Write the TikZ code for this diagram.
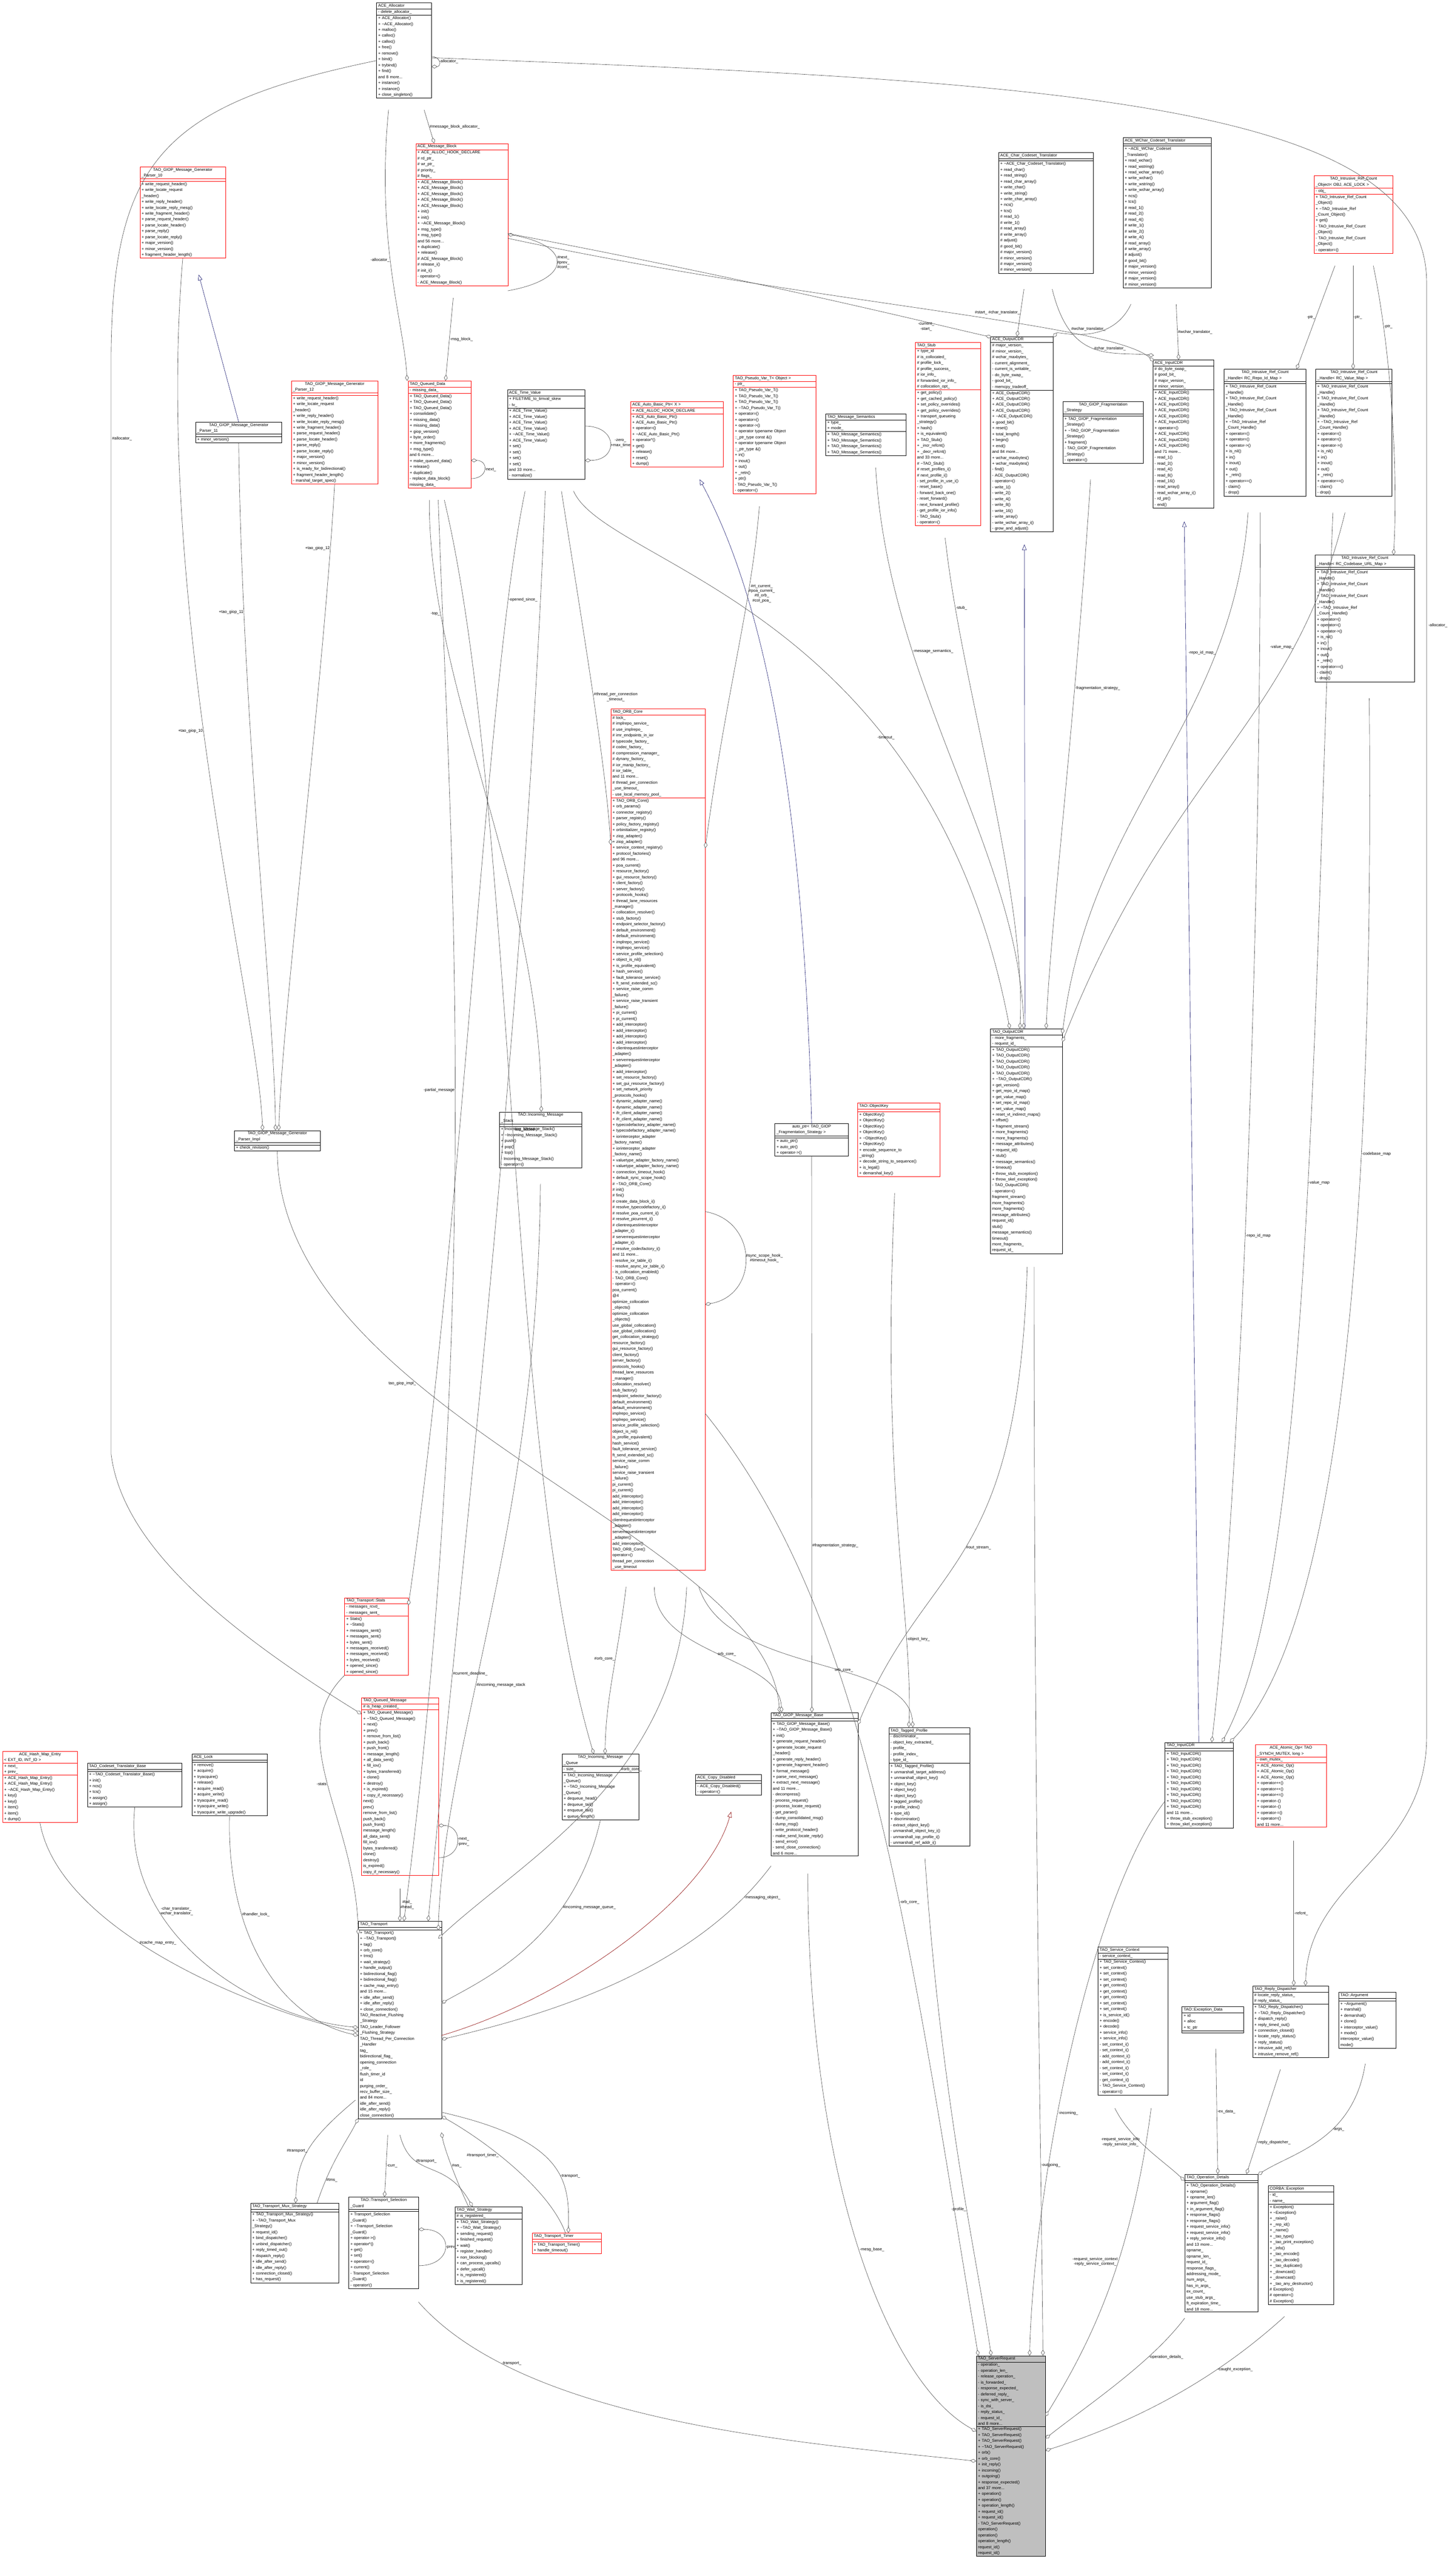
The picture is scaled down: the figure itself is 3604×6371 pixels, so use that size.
\documentclass[tikz,border=0pt]{standalone}
\usepackage{fontspec}
\setmainfont{Liberation Sans}
\usetikzlibrary{shapes.multipart,arrows.meta}

\definecolor{navy}{RGB}{25,25,112}
\definecolor{darkred}{RGB}{139,0,0}

\tikzset{
    cls/.style={rectangle split,rectangle split parts=3,draw,anchor=north west,
        inner xsep=4pt,inner ysep=2.5pt,align=left,line width=0.9pt,
        rectangle split empty part height=9pt,
        font=\fontsize{10}{14.6}\selectfont},
    agg/.style={draw=black!70,line width=0.8pt,-{Diamond[open,length=15pt,width=9pt,fill=white]}},
    inh/.style={draw=navy,line width=0.8pt,-{Triangle[open,length=14pt,width=11pt,fill=white]}},
    lbl/.style={font=\fontsize{10}{12}\selectfont,align=center,inner sep=1pt}
}

% class box: colour, name, top left corner, text width, title, attributes, methods
\newcommand{\umlclass}[7][black]{%
  \node[cls,draw=#1,text width=#4] (#2) at (#3) {\centering #5\nodepart{two}#6\nodepart{three}#7};}
\newcommand{\tl}{\textasciitilde}

\begin{document}
\catcode`\_=12
\begin{tikzpicture}[x=1pt,y=-1pt]
\useasboundingbox[fill=white] (0,0) rectangle (3604,6371);

%--- top row ---%
\umlclass{alloc}{932,7}{128pt}{ACE_Allocator}{- delete_allocator_}{+ ACE_Allocator()\\+ \tl ACE_Allocator()\\+ malloc()\\+ calloc()\\+ calloc()\\+ free()\\+ remove()\\+ bind()\\+ trybind()\\+ find()\\and 8 more...\\+ instance()\\+ instance()\\+ close_singleton()}
\umlclass[red]{msgblock}{1029,355}{220pt}{ACE_Message_Block}{+ ACE_ALLOC_HOOK_DECLARE\\\# rd_ptr_\\\# wr_ptr_\\\# priority_\\\# flags_}{+ ACE_Message_Block()\\+ ACE_Message_Block()\\+ ACE_Message_Block()\\+ ACE_Message_Block()\\+ ACE_Message_Block()\\+ init()\\+ init()\\+ \tl ACE_Message_Block()\\+ msg_type()\\+ msg_type()\\and 56 more...\\+ duplicate()\\+ release()\\\# ACE_Message_Block()\\\# release_i()\\\# init_i()\\- operator=()\\- ACE_Message_Block()}
\umlclass[red]{parser10}{346,413}{204pt}{TAO_GIOP_Message_Generator\\_Parser_10}{}{+ write_request_header()\\+ write_locate_request\\ _header()\\+ write_reply_header()\\+ write_locate_reply_mesg()\\+ write_fragment_header()\\+ parse_request_header()\\+ parse_locate_header()\\+ parse_reply()\\+ parse_locate_reply()\\+ major_version()\\+ minor_version()\\+ fragment_header_length()}
\umlclass{parser11}{484,1045}{205pt}{TAO_GIOP_Message_Generator\\_Parser_11}{}{+ minor_version()}
\umlclass[red]{parser12}{721,943}{206pt}{TAO_GIOP_Message_Generator\\_Parser_12}{}{+ write_request_header()\\+ write_locate_request\\ _header()\\+ write_reply_header()\\+ write_locate_reply_mesg()\\+ write_fragment_header()\\+ parse_request_header()\\+ parse_locate_header()\\+ parse_reply()\\+ parse_locate_reply()\\+ major_version()\\+ minor_version()\\+ is_ready_for_bidirectional()\\+ fragment_header_length()\\- marshal_target_spec()}
\umlclass[red]{qdata}{1010,943}{148pt}{TAO_Queued_Data}{- missing_data_}{+ TAO_Queued_Data()\\+ TAO_Queued_Data()\\+ TAO_Queued_Data()\\+ consolidate()\\+ missing_data()\\+ missing_data()\\+ giop_version()\\+ byte_order()\\+ more_fragments()\\+ msg_type()\\and 6 more...\\+ make_queued_data()\\+ release()\\+ duplicate()\\- replace_data_block()\\* missing_data_}
\umlclass{timevalue}{1256,965}{184pt}{ACE_Time_Value}{+ FILETIME_to_timval_skew\\- tv_}{+ ACE_Time_Value()\\+ ACE_Time_Value()\\+ ACE_Time_Value()\\+ ACE_Time_Value()\\+ \tl ACE_Time_Value()\\+ ACE_Time_Value()\\+ set()\\+ set()\\+ set()\\+ set()\\and 33 more...\\- normalize()}
\umlclass[red]{autobasic}{1561,994}{221pt}{ACE_Auto_Basic_Ptr< X >}{+ ACE_ALLOC_HOOK_DECLARE}{+ ACE_Auto_Basic_Ptr()\\+ ACE_Auto_Basic_Ptr()\\+ operator=()\\+ \tl ACE_Auto_Basic_Ptr()\\+ operator*()\\+ get()\\+ release()\\+ reset()\\+ dump()}
\umlclass{charcs}{2472,377}{226pt}{ACE_Char_Codeset_Translator}{}{+ \tl ACE_Char_Codeset_Translator()\\+ read_char()\\+ read_string()\\+ read_char_array()\\+ write_char()\\+ write_string()\\+ write_char_array()\\+ ncs()\\+ tcs()\\\# read_1()\\\# write_1()\\\# read_array()\\\# write_array()\\\# adjust()\\\# good_bit()\\\# major_version()\\\# minor_version()\\\# major_version()\\\# minor_version()}
\umlclass{wcharcs}{2780,340}{210pt}{ACE_WChar_Codeset_Translator}{}{+ \tl ACE_WChar_Codeset\\ _Translator()\\+ read_wchar()\\+ read_wstring()\\+ read_wchar_array()\\+ write_wchar()\\+ write_wstring()\\+ write_wchar_array()\\+ ncs()\\+ tcs()\\\# read_1()\\\# read_2()\\\# read_4()\\\# write_1()\\\# write_2()\\\# write_4()\\\# read_array()\\\# write_array()\\\# adjust()\\\# good_bit()\\\# major_version()\\\# minor_version()\\\# major_version()\\\# minor_version()}
\umlclass[red]{refobj}{3253,435}{187pt}{TAO_Intrusive_Ref_Count\\_Object< OBJ, ACE_LOCK >}{- obj_}{+ TAO_Intrusive_Ref_Count\\ _Object()\\+ \tl TAO_Intrusive_Ref\\ _Count_Object()\\+ get()\\- TAO_Intrusive_Ref_Count\\ _Object()\\- TAO_Intrusive_Ref_Count\\ _Object()\\- operator=()}

%--- second row ---%
\umlclass[red]{pseudovar}{1815,929}{196pt}{TAO_Pseudo_Var_T< Object >}{- ptr_}{+ TAO_Pseudo_Var_T()\\+ TAO_Pseudo_Var_T()\\+ TAO_Pseudo_Var_T()\\+ \tl TAO_Pseudo_Var_T()\\+ operator=()\\+ operator=()\\+ operator->()\\+ operator typename Object\\::_ptr_type const \&()\\+ operator typename Object\\::_ptr_type \&()\\+ in()\\+ inout()\\+ out()\\+ _retn()\\+ ptr()\\- TAO_Pseudo_Var_T()\\- operator=()}
\umlclass{msgsem}{2044,1024}{190pt}{TAO_Message_Semantics}{+ type_\\+ mode_}{+ TAO_Message_Semantics()\\+ TAO_Message_Semantics()\\+ TAO_Message_Semantics()\\+ TAO_Message_Semantics()}
\umlclass[red]{stub}{2266,847}{153pt}{TAO_Stub}{+ type_id\\\# is_collocated_\\\# profile_lock_\\\# profile_success_\\\# ior_info_\\\# forwarded_ior_info_\\\# collocation_opt_}{+ get_policy()\\+ get_cached_policy()\\+ set_policy_overrides()\\+ get_policy_overrides()\\+ transport_queueing\\ _strategy()\\+ hash()\\+ is_equivalent()\\+ TAO_Stub()\\+ _incr_refcnt()\\+ _decr_refcnt()\\and 33 more...\\\# \tl TAO_Stub()\\\# reset_profiles_i()\\\# next_profile_i()\\- set_profile_in_use_i()\\- reset_base()\\- forward_back_one()\\- reset_forward()\\- next_forward_profile()\\- get_profile_ior_info()\\- TAO_Stub()\\- operator=()}
\umlclass{aceout}{2452,833}{147pt}{ACE_OutputCDR}{\# major_version_\\\# minor_version_\\\# wchar_maxbytes_\\- current_alignment_\\- current_is_writable_\\- do_byte_swap_\\- good_bit_\\- memcpy_tradeoff_}{+ ACE_OutputCDR()\\+ ACE_OutputCDR()\\+ ACE_OutputCDR()\\+ ACE_OutputCDR()\\+ \tl ACE_OutputCDR()\\+ good_bit()\\+ reset()\\+ total_length()\\+ begin()\\+ end()\\and 84 more...\\+ wchar_maxbytes()\\+ wchar_maxbytes()\\- find()\\- ACE_OutputCDR()\\- operator=()\\- write_1()\\- write_2()\\- write_4()\\- write_8()\\- write_16()\\- write_array()\\- write_wchar_array_i()\\- grow_and_adjust()}
\umlclass{fragstrat}{2631,994}{191pt}{TAO_GIOP_Fragmentation\\_Strategy}{}{+ TAO_GIOP_Fragmentation\\ _Strategy()\\+ \tl TAO_GIOP_Fragmentation\\ _Strategy()\\+ fragment()\\- TAO_GIOP_Fragmentation\\ _Strategy()\\- operator=()}
\umlclass{acein}{2854,891}{142pt}{ACE_InputCDR}{\# do_byte_swap_\\\# good_bit_\\\# major_version_\\\# minor_version_}{+ ACE_InputCDR()\\+ ACE_InputCDR()\\+ ACE_InputCDR()\\+ ACE_InputCDR()\\+ ACE_InputCDR()\\+ ACE_InputCDR()\\+ operator=()\\+ ACE_InputCDR()\\+ ACE_InputCDR()\\+ ACE_InputCDR()\\and 71 more...\\- read_1()\\- read_2()\\- read_4()\\- read_8()\\- read_16()\\- read_array()\\- read_wchar_array_i()\\- rd_ptr()\\- end()}
\umlclass{repohandle}{3030,914}{195pt}{TAO_Intrusive_Ref_Count\\_Handle< RC_Repo_Id_Map >}{}{+ TAO_Intrusive_Ref_Count\\ _Handle()\\+ TAO_Intrusive_Ref_Count\\ _Handle()\\+ TAO_Intrusive_Ref_Count\\ _Handle()\\+ \tl TAO_Intrusive_Ref\\ _Count_Handle()\\+ operator=()\\+ operator=()\\+ operator->()\\+ is_nil()\\+ in()\\+ inout()\\+ out()\\+ _retn()\\+ operator==()\\- claim()\\- drop()}
\umlclass{valuehandle}{3257,914}{181pt}{TAO_Intrusive_Ref_Count\\_Handle< RC_Value_Map >}{}{+ TAO_Intrusive_Ref_Count\\ _Handle()\\+ TAO_Intrusive_Ref_Count\\ _Handle()\\+ TAO_Intrusive_Ref_Count\\ _Handle()\\+ \tl TAO_Intrusive_Ref\\ _Count_Handle()\\+ operator=()\\+ operator=()\\+ operator->()\\+ is_nil()\\+ in()\\+ inout()\\+ out()\\+ _retn()\\+ operator==()\\- claim()\\- drop()}
\umlclass{urlhandle}{3256,1374}{237pt}{TAO_Intrusive_Ref_Count\\_Handle< RC_Codebase_URL_Map >}{}{+ TAO_Intrusive_Ref_Count\\ _Handle()\\+ TAO_Intrusive_Ref_Count\\ _Handle()\\+ TAO_Intrusive_Ref_Count\\ _Handle()\\+ \tl TAO_Intrusive_Ref\\ _Count_Handle()\\+ operator=()\\+ operator=()\\+ operator->()\\+ is_nil()\\+ in()\\+ inout()\\+ out()\\+ _retn()\\+ operator==()\\- claim()\\- drop()}

%--- middle ---%
\umlclass[red]{orbcore}{1512,1755}{226pt}{TAO_ORB_Core}{\# lock_\\\# implrepo_service_\\\# use_implrepo_\\\# imr_endpoints_in_ior\\\# typecode_factory_\\\# codec_factory_\\\# compression_manager_\\\# dynany_factory_\\\# ior_manip_factory_\\\# ior_table_\\and 11 more...\\\# thread_per_connection\\ _use_timeout_\\- use_local_memory_pool_}{+ TAO_ORB_Core()\\+ orb_params()\\+ connector_registry()\\+ parser_registry()\\+ policy_factory_registry()\\+ orbinitializer_registry()\\+ ziop_adapter()\\+ ziop_adapter()\\+ service_context_registry()\\+ protocol_factories()\\and 96 more...\\+ poa_current()\\+ resource_factory()\\+ gui_resource_factory()\\+ client_factory()\\+ server_factory()\\+ protocols_hooks()\\+ thread_lane_resources\\ _manager()\\+ collocation_resolver()\\+ stub_factory()\\+ endpoint_selector_factory()\\+ default_environment()\\+ default_environment()\\+ implrepo_service()\\+ implrepo_service()\\+ service_profile_selection()\\+ object_is_nil()\\+ is_profile_equivalent()\\+ hash_service()\\+ fault_tolerance_service()\\+ ft_send_extended_sc()\\+ service_raise_comm\\ _failure()\\+ service_raise_transient\\ _failure()\\+ pi_current()\\+ pi_current()\\+ add_interceptor()\\+ add_interceptor()\\+ add_interceptor()\\+ add_interceptor()\\+ clientrequestinterceptor\\ _adapter()\\+ serverrequestinterceptor\\ _adapter()\\+ add_interceptor()\\+ set_resource_factory()\\+ set_gui_resource_factory()\\+ set_network_priority\\ _protocols_hooks()\\+ dynamic_adapter_name()\\+ dynamic_adapter_name()\\+ ifr_client_adapter_name()\\+ ifr_client_adapter_name()\\+ typecodefactory_adapter_name()\\+ typecodefactory_adapter_name()\\+ iorinterceptor_adapter\\ _factory_name()\\+ iorinterceptor_adapter\\ _factory_name()\\+ valuetype_adapter_factory_name()\\+ valuetype_adapter_factory_name()\\+ connection_timeout_hook()\\+ default_sync_scope_hook()\\\# \tl TAO_ORB_Core()\\\# init()\\\# fini()\\\# create_data_block_i()\\\# resolve_typecodefactory_i()\\\# resolve_poa_current_i()\\\# resolve_picurrent_i()\\\# clientrequestinterceptor\\ _adapter_i()\\\# serverrequestinterceptor\\ _adapter_i()\\\# resolve_codecfactory_i()\\and 11 more...\\- resolve_ior_table_i()\\- resolve_async_ior_table_i()\\- is_collocation_enabled()\\- TAO_ORB_Core()\\- operator=()\\* poa_current()\\* @4\\* optimize_collocation\\ _objects()\\* optimize_collocation\\ _objects()\\* use_global_collocation()\\* use_global_collocation()\\* get_collocation_strategy()\\* resource_factory()\\* gui_resource_factory()\\* client_factory()\\* server_factory()\\* protocols_hooks()\\* thread_lane_resources\\ _manager()\\* collocation_resolver()\\* stub_factory()\\* endpoint_selector_factory()\\* default_environment()\\* default_environment()\\* implrepo_service()\\* implrepo_service()\\* service_profile_selection()\\* object_is_nil()\\* is_profile_equivalent()\\* hash_service()\\* fault_tolerance_service()\\* ft_send_extended_sc()\\* service_raise_comm\\ _failure()\\* service_raise_transient\\ _failure()\\* pi_current()\\* pi_current()\\* add_interceptor()\\* add_interceptor()\\* add_interceptor()\\* add_interceptor()\\* clientrequestinterceptor\\ _adapter()\\* serverrequestinterceptor\\ _adapter()\\* add_interceptor()\\* TAO_ORB_Core()\\* operator=()\\* thread_per_connection\\ _use_timeout}
\umlclass{parserimpl}{580,2799}{204pt}{TAO_GIOP_Message_Generator\\_Parser_Impl}{}{+ check_revision()}
\umlclass{msgstack}{1236,2753}{196pt}{TAO::Incoming_Message\\_Stack}{}{+ Incoming_Message_Stack()\\+ \tl Incoming_Message_Stack()\\+ push()\\+ pop()\\+ top()\\- Incoming_Message_Stack()\\- operator=()}
\umlclass{autoptr}{1918,2782}{174pt}{auto_ptr< TAO_GIOP\\_Fragmentation_Strategy >}{}{+ auto_ptr()\\+ auto_ptr()\\+ operator->()}
\umlclass[red]{objkey}{2123,2731}{196pt}{TAO::ObjectKey}{}{+ ObjectKey()\\+ ObjectKey()\\+ ObjectKey()\\+ ObjectKey()\\+ \tl ObjectKey()\\+ ObjectKey()\\+ encode_sequence_to\\ _string()\\+ decode_string_to_sequence()\\+ is_legal()\\+ demarshal_key()}
\umlclass{taoout}{2452,2547}{170pt}{TAO_OutputCDR}{- more_fragments_\\- request_id_}{+ TAO_OutputCDR()\\+ TAO_OutputCDR()\\+ TAO_OutputCDR()\\+ TAO_OutputCDR()\\+ TAO_OutputCDR()\\+ \tl TAO_OutputCDR()\\+ get_version()\\+ get_repo_id_map()\\+ get_value_map()\\+ set_repo_id_map()\\+ set_value_map()\\+ reset_vt_indirect_maps()\\+ offset()\\+ fragment_stream()\\+ more_fragments()\\+ more_fragments()\\+ message_attributes()\\+ request_id()\\+ stub()\\+ message_semantics()\\+ timeout()\\+ throw_stub_exception()\\+ throw_skel_exception()\\- TAO_OutputCDR()\\- operator=()\\* fragment_stream()\\* more_fragments()\\* more_fragments()\\* message_attributes()\\* request_id()\\* stub()\\* message_semantics()\\* timeout()\\* more_fragments_\\* request_id_}

%--- lower middle ---%
\umlclass[red]{stats}{853,3956}{150pt}{TAO_Transport::Stats}{- messages_rcvd_\\- messages_sent_}{+ Stats()\\+ \tl Stats()\\+ messages_sent()\\+ messages_sent()\\+ bytes_sent()\\+ messages_received()\\+ messages_received()\\+ bytes_received()\\+ opened_since()\\+ opened_since()}
\umlclass[red]{qmsg}{895,4203}{182pt}{TAO_Queued_Message}{\# is_heap_created_}{+ TAO_Queued_Message()\\+ \tl TAO_Queued_Message()\\+ next()\\+ prev()\\+ remove_from_list()\\+ push_back()\\+ push_front()\\+ message_length()\\+ all_data_sent()\\+ fill_iov()\\+ bytes_transferred()\\+ clone()\\+ destroy()\\+ is_expired()\\+ copy_if_necessary()\\* next()\\* prev()\\* remove_from_list()\\* push_back()\\* push_front()\\* message_length()\\* all_data_sent()\\* fill_iov()\\* bytes_transferred()\\* clone()\\* destroy()\\* is_expired()\\* copy_if_necessary()}
\umlclass[red]{hashentry}{6,4336}{177pt}{ACE_Hash_Map_Entry\\< EXT_ID, INT_ID >}{+ next_\\+ prev_}{+ ACE_Hash_Map_Entry()\\+ ACE_Hash_Map_Entry()\\+ \tl ACE_Hash_Map_Entry()\\+ key()\\+ key()\\+ item()\\+ item()\\+ dump()}
\umlclass{csbase}{216,4365}{226pt}{TAO_Codeset_Translator_Base}{}{+ \tl TAO_Codeset_Translator_Base()\\+ init()\\+ ncs()\\+ tcs()\\+ assign()\\+ assign()}
\umlclass{acelock}{475,4342}{178pt}{ACE_Lock}{}{+ remove()\\+ acquire()\\+ tryacquire()\\+ release()\\+ acquire_read()\\+ acquire_write()\\+ tryacquire_read()\\+ tryacquire_write()\\+ tryacquire_write_upgrade()}
\umlclass{msgqueue}{1391,4343}{182pt}{TAO_Incoming_Message\\_Queue}{- size_}{+ TAO_Incoming_Message\\ _Queue()\\+ \tl TAO_Incoming_Message\\ _Queue()\\+ dequeue_head()\\+ dequeue_tail()\\+ enqueue_tail()\\+ queue_length()}
\umlclass{copydis}{1722,4394}{155pt}{ACE_Copy_Disabled}{}{- ACE_Copy_Disabled()\\- operator=()}
\umlclass{giopbase}{1909,4240}{207pt}{TAO_GIOP_Message_Base}{}{+ TAO_GIOP_Message_Base()\\+ \tl TAO_GIOP_Message_Base()\\+ init()\\+ generate_request_header()\\+ generate_locate_request\\ _header()\\+ generate_reply_header()\\+ generate_fragment_header()\\+ format_message()\\+ parse_next_message()\\+ extract_next_message()\\and 11 more...\\- decompress()\\- process_request()\\- process_locate_request()\\- get_parser()\\- dump_consolidated_msg()\\- dump_msg()\\- write_protocol_header()\\- make_send_locate_reply()\\- send_error()\\- send_close_connection()\\and 6 more...}
\umlclass{tagged}{2200,4277}{192pt}{TAO_Tagged_Profile}{- discriminator_\\- object_key_extracted_\\- profile_\\- profile_index_\\- type_id_}{+ TAO_Tagged_Profile()\\+ unmarshall_target_address()\\+ unmarshall_object_key()\\+ object_key()\\+ object_key()\\+ object_key()\\+ tagged_profile()\\+ profile_index()\\+ type_id()\\+ discriminator()\\- extract_object_key()\\- unmarshall_object_key_i()\\- unmarshall_iop_profile_i()\\- unmarshall_ref_addr_i()}
\umlclass{taoin}{2884,4314}{161pt}{TAO_InputCDR}{}{+ TAO_InputCDR()\\+ TAO_InputCDR()\\+ TAO_InputCDR()\\+ TAO_InputCDR()\\+ TAO_InputCDR()\\+ TAO_InputCDR()\\+ TAO_InputCDR()\\+ TAO_InputCDR()\\+ TAO_InputCDR()\\+ TAO_InputCDR()\\and 11 more...\\+ throw_stub_exception()\\+ throw_skel_exception()}
\umlclass[red]{atomicop}{3108,4320}{167pt}{ACE_Atomic_Op< TAO\\_SYNCH_MUTEX, long >}{- own_mutex_}{+ ACE_Atomic_Op()\\+ ACE_Atomic_Op()\\+ ACE_Atomic_Op()\\+ operator++()\\+ operator++()\\+ operator+=()\\+ operator--()\\+ operator--()\\+ operator-=()\\+ operator=()\\and 11 more...}
\umlclass{transport}{887,4757}{198pt}{TAO_Transport}{}{+ TAO_Transport()\\+ \tl TAO_Transport()\\+ tag()\\+ orb_core()\\+ tms()\\+ wait_strategy()\\+ handle_output()\\+ bidirectional_flag()\\+ bidirectional_flag()\\+ cache_map_entry()\\and 15 more...\\+ idle_after_send()\\+ idle_after_reply()\\+ close_connection()\\* TAO_Reactive_Flushing\\ _Strategy\\* TAO_Leader_Follower\\ _Flushing_Strategy\\* TAO_Thread_Per_Connection\\ _Handler\\* tag_\\* bidirectional_flag_\\* opening_connection\\ _role_\\* flush_timer_id\\* id\\* purging_order_\\* recv_buffer_size_\\and 84 more...\\* idle_after_send()\\* idle_after_reply()\\* close_connection()}

%--- bottom ---%
\umlclass{svcctx}{2718,4820}{165pt}{TAO_Service_Context}{- service_context_}{+ TAO_Service_Context()\\+ set_context()\\+ set_context()\\+ set_context()\\+ get_context()\\+ get_context()\\+ get_context()\\+ set_context()\\+ set_context()\\+ is_service_id()\\+ encode()\\+ decode()\\+ service_info()\\+ service_info()\\- set_context_i()\\- set_context_i()\\- add_context_i()\\- add_context_i()\\- set_context_i()\\- set_context_i()\\- get_context_i()\\- TAO_Service_Context()\\- operator=()}
\umlclass{exdata}{2926,4968}{144pt}{TAO::Exception_Data}{+ id\\+ alloc\\+ tc_ptr}{}
\umlclass{replydisp}{3101,4917}{180pt}{TAO_Reply_Dispatcher}{\# locate_reply_status_\\\# reply_status_}{+ TAO_Reply_Dispatcher()\\+ \tl TAO_Reply_Dispatcher()\\+ dispatch_reply()\\+ reply_timed_out()\\+ connection_closed()\\+ locate_reply_status()\\+ reply_status()\\+ intrusive_add_ref()\\+ intrusive_remove_ref()}
\umlclass{argument}{3314,4933}{133pt}{TAO::Argument}{}{+ \tl Argument()\\+ marshal()\\+ demarshal()\\+ clone()\\+ interceptor_value()\\+ mode()\\* interceptor_value()\\* mode()}
\umlclass{mux}{620,5455}{210pt}{TAO_Transport_Mux_Strategy}{}{+ TAO_Transport_Mux_Strategy()\\+ \tl TAO_Transport_Mux\\ _Strategy()\\+ request_id()\\+ bind_dispatcher()\\+ unbind_dispatcher()\\+ reply_timed_out()\\+ dispatch_reply()\\+ idle_after_send()\\+ idle_after_reply()\\+ connection_closed()\\+ has_request()}
\umlclass{guard}{863,5440}{165pt}{TAO::Transport_Selection\\_Guard}{}{+ Transport_Selection\\ _Guard()\\+ \tl Transport_Selection\\ _Guard()\\+ operator->()\\+ operator*()\\+ get()\\+ set()\\+ operator=()\\+ current()\\- Transport_Selection\\ _Guard()\\- operator!()}
\umlclass{waitstrat}{1126,5464}{158pt}{TAO_Wait_Strategy}{\# is_registered_}{+ TAO_Wait_Strategy()\\+ \tl TAO_Wait_Strategy()\\+ sending_request()\\+ finished_request()\\+ wait()\\+ register_handler()\\+ non_blocking()\\+ can_process_upcalls()\\+ defer_upcall()\\+ is_registered()\\+ is_registered()}
\umlclass[red]{timer}{1317,5529}{163pt}{TAO_Transport_Timer}{}{+ TAO_Transport_Timer()\\+ handle_timeout()}
\umlclass{opdetails}{2933,5383}{173pt}{TAO_Operation_Details}{}{+ TAO_Operation_Details()\\+ opname()\\+ opname_len()\\+ argument_flag()\\+ in_argument_flag()\\+ response_flags()\\+ response_flags()\\+ request_service_info()\\+ request_service_info()\\+ reply_service_info()\\and 13 more...\\* opname_\\* opname_len_\\* request_id_\\* response_flags_\\* addressing_mode_\\* num_args_\\* has_in_args_\\* ex_count_\\* use_stub_args_\\* ft_expiration_time_\\and 18 more...}
\umlclass{corbaex}{3139,5412}{154pt}{CORBA::Exception}{- id_\\- name_}{+ Exception()\\+ \tl Exception()\\+ _raise()\\+ _rep_id()\\+ _name()\\+ _tao_type()\\+ _tao_print_exception()\\+ _info()\\+ _tao_encode()\\+ _tao_decode()\\+ _tao_duplicate()\\+ _downcast()\\+ _downcast()\\+ _tao_any_destructor()\\\# Exception()\\\# operator=()\\\# Exception()}
\node[cls,fill=black!25,text width=163pt] (serverreq) at (2417,5833) {\centering TAO_ServerRequest\nodepart{two}- operation_\\- operation_len_\\- release_operation_\\- is_forwarded_\\- response_expected_\\- deferred_reply_\\- sync_with_server_\\- is_dsi_\\- reply_status_\\- request_id_\\and 8 more...\nodepart{three}+ TAO_ServerRequest()\\+ TAO_ServerRequest()\\+ TAO_ServerRequest()\\+ \tl TAO_ServerRequest()\\+ orb()\\+ orb_core()\\+ init_reply()\\+ incoming()\\+ outgoing()\\+ response_expected()\\and 37 more...\\+ operation()\\+ operation()\\+ operation_length()\\+ request_id()\\+ request_id()\\- TAO_ServerRequest()\\* operation()\\* operation()\\* operation_length()\\* request_id()\\* request_id()};

%--- connectors: top ---%
\draw[agg] (1068,140) to[out=0,in=0,looseness=2.5] node[lbl,right]{-allocator_} (1068,165);
\draw[agg] (1050,272) -- node[lbl,right]{\#message_block_allocator_} (1075,355);
\draw[agg] (962,272) .. controls (930,600) and (1000,800) .. node[lbl,left,pos=0.45]{-allocator_} (1008,943);
\draw[agg] (1068,143) .. controls (2600,200) and (3532,250) .. (3532,700) -- (3532,4300) .. controls (3532,4600) and (3240,4650) .. node[lbl,pos=0.0,right]{} (3232,4917);
\node[lbl] at (3560,1549) {-allocator_};
\draw[agg] (932,150) .. controls (400,260) and (275,400) .. (275,900) -- (275,3600) .. controls (300,3800) and (500,4000) .. node[lbl,pos=0.9,right]{} (qmsg.west |- 0,4244);
\node[lbl] at (302,1086) {\#allocator_};
\draw[agg] (1257,720) to[out=10,in=-10,looseness=3] node[lbl,right]{\#next_\\\#prev_\\\#cont_} (1257,580);
\draw[agg] (1122,738) -- node[lbl,right]{-msg_block_} (1103,943);
\draw[agg] (1257,578) .. controls (1900,700) and (2300,800) .. node[lbl,pos=0.75,below]{-current_\\-start_} (2455,835);
\draw[agg] (1257,590) .. controls (2000,750) and (2750,800) .. node[lbl,pos=0.85,above]{} (2857,895);
\draw[agg] (parser10.south) .. controls (380,1500) and (640,2500) .. node[lbl,pos=0.45,left]{+tao_giop_10} (650,2799);
\draw[agg] (parser11.south) .. controls (600,1800) and (680,2500) .. node[lbl,pos=0.2,left]{+tao_giop_11} (682,2799);
\draw[agg] (parser12.south) .. controls (800,1700) and (700,2500) .. node[lbl,pos=0.1,left]{+tao_giop_12} (690,2799);
\draw[inh] (parser11.north) -- (492,680);
\draw[agg] (1166,1185) to[out=0,in=0,looseness=2.5] node[lbl,right]{-next_} (1166,1140);
\draw[agg] (1063,1238) .. controls (1060,1700) and (1340,2200) .. node[lbl,pos=0.2,left]{-top_} (1340,2753);
\draw[agg] (1085,1238) .. controls (1110,2000) and (1200,3200) .. node[lbl,pos=0.5,left]{-partial_message} (1000,4757);
\draw[agg] (1100,1238) .. controls (1280,2000) and (1250,3600) .. node[lbl,pos=0.5,right]{-last_added} (1470,4343);
\draw[agg] (1448,1055) to[out=0,in=0,looseness=2.5] node[lbl,right]{-zero_\\+max_time} (1448,1140);
\draw[agg] (1300,1216) .. controls (1200,1700) and (1150,3000) .. node[lbl,pos=0.15,right]{-opened_since_} (1011,3975);
\draw[agg] (1390,1216) .. controls (1450,1600) and (1500,1900) .. node[lbl,pos=0.5,right]{\#thread_per_connection\\_timeout_} (1512,2092);
\draw[agg] (1420,1216) .. controls (1500,1400) and (2300,1500) .. node[lbl,pos=0.7,above]{-timeout_} (2500,2547);
\draw[agg] (1350,1216) .. controls (1300,2500) and (1150,3800) .. node[lbl,pos=0.8,right]{\#current_deadline_} (1060,4757);
\draw[inh] (autoptr.north) .. controls (1990,2000) and (1900,1500) .. (1732,1187);

%--- connectors: codecs and maps ---%
\draw[agg] (2535,716) -- node[lbl,left]{\#start_\ \#char_translator_} (2518,833);
\draw[agg] (2605,716) .. controls (2650,900) and (2750,870) .. node[lbl,pos=0.5,right]{\#char_translator_} (2857,880);
\draw[agg] (2800,753) .. controls (2750,860) and (2620,820) .. node[lbl,pos=0.3,left]{\#wchar_translator_} (2607,835);
\draw[agg] (2912,753) -- node[lbl,right]{\#wchar_translator_} (2918,891);
\draw[agg] (3305,658) -- node[lbl,left]{-ptr_} (3210,914);
\draw[agg] (3350,658) -- node[lbl,right]{-ptr_} (3350,914);
\draw[agg] (3400,658) .. controls (3450,900) and (3460,1200) .. node[lbl,pos=0.2,right]{-ptr_} (3450,1374);
\draw[agg] (1880,1254) .. controls (1860,1500) and (1800,1700) .. node[lbl,pos=0.3,right]{\#rt_current_\\\#poa_current_\\\#tl_orb_\\\#col_poa_} (1746,2100);
\draw[agg] (2168,1158) .. controls (2200,1700) and (2520,2100) .. node[lbl,pos=0.3,right]{-message_semantics_} (2535,2547);
\draw[agg] (2340,1332) .. controls (2380,1700) and (2540,2200) .. node[lbl,pos=0.15,right]{-stub_} (2525,2547);
\draw[inh] (2538,2547) -- (2536,1348);
\draw[agg] (2700,1187) .. controls (2660,1800) and (2600,2300) .. node[lbl,pos=0.3,right]{-fragmentation_strategy_} (2590,2547);
\draw[inh] (2968,4314) -- (2932,1291);
\draw[agg] (3090,1269) .. controls (3050,1800) and (2700,2000) .. node[lbl,pos=0.25,left]{-repo_id_map_} (2630,2560);
\draw[agg] (3330,1269) .. controls (3200,1800) and (2900,1900) .. node[lbl,pos=0.25,left]{-value_map_} (2630,2580);
\draw[agg] (3120,1269) .. controls (3120,2500) and (3060,3800) .. node[lbl,pos=0.5,right]{-repo_id_map} (3000,4314);
\draw[agg] (3300,1269) .. controls (3250,2500) and (3250,3900) .. node[lbl,pos=0.45,right]{-value_map} (3025,4314);
\draw[agg] (3390,1729) .. controls (3400,2800) and (3350,4000) .. node[lbl,pos=0.35,right]{-codebase_map} (3045,4314);

%--- connectors: into the transport ---%
\draw[agg] (parserimpl.south) .. controls (690,3500) and (1900,3800) .. node[lbl,pos=0.35,left]{tao_giop_impl_} (1930,4240);
\draw[agg] (1338,2931) .. controls (1330,3800) and (1100,4300) .. node[lbl,pos=0.6,right]{\#incoming_message_stack} (1085,4780);
\draw[agg] (1700,3929) .. controls (1680,4400) and (1300,4600) .. node[lbl,pos=0.4,right]{\#orb_core_} (1085,4800);
\draw[agg] (1550,3929) .. controls (1530,4100) and (1500,4200) .. node[lbl,pos=0.4,left]{\#orb_core_} (1498,4343);
\draw[agg] (1620,3929) .. controls (1620,4100) and (1930,4100) .. node[lbl,pos=0.5,right]{orb_core_} (1935,4240);
\draw[agg] (1730,3929) .. controls (1800,4150) and (2250,4100) .. node[lbl,pos=0.6,above]{orb_core_} (2260,4277);
\draw[agg] (1746,3500) .. controls (2150,4000) and (2250,4800) .. node[lbl,pos=0.6,right]{-orb_core_} (2422,5833);
\draw[agg] (1746,3000) to[out=-10,in=10,looseness=1.5] node[lbl,right]{\#sync_scope_hook_\\\#timeout_hook_} (1746,3230);
\draw[agg] (autoptr.south) -- node[lbl,pos=0.7,right]{\#fragmentation_strategy_} (2010,4240);
\draw[agg] (2215,2954) .. controls (2180,3700) and (2260,4000) .. node[lbl,pos=0.75,right]{-object_key_} (2250,4277);
\draw[agg] (2543,3137) .. controls (2520,3900) and (2300,3850) .. node[lbl,pos=0.5,right]{\#out_stream_} (2124,4270);
\draw[agg] (2560,3137) .. controls (2560,4500) and (2580,5500) .. node[lbl,pos=0.7,right]{-outgoing_} (2582,5833);
\draw[agg] (stats.south west) .. controls (700,4300) and (880,4500) .. node[lbl,pos=0.5,left]{-stats} (887,4790);
\draw[agg] (1085,4600) to[out=0,in=0,looseness=2] node[lbl,right]{-next_\\-prev_} (1085,4520);
\draw[agg] (990,4676) -- node[lbl,right]{\#tail_\\\#head_} (990,4757);
\draw[agg] (hashentry.south) .. controls (150,4800) and (700,5000) .. node[lbl,pos=0.4,right]{\#cache_map_entry_} (887,5030);
\draw[agg] (csbase.south) .. controls (300,4800) and (650,5000) .. node[lbl,pos=0.3,right]{-char_translator_\\-wchar_translator_} (887,5020);
\draw[agg] (acelock.south) .. controls (560,4800) and (700,5000) .. node[lbl,pos=0.3,right]{\#handler_lock_} (887,5040);
\draw[agg] (msgqueue.south) .. controls (1420,4800) and (1200,4900) .. node[lbl,pos=0.3,right]{\#incoming_message_queue_} (1093,4960);
\draw[draw=darkred,line width=0.8pt,-{Triangle[open,length=14pt,width=11pt,fill=white]}] (1093,5040) .. controls (1400,4950) and (1750,4700) .. (1810,4486);
\draw[agg] (1909,4620) .. controls (1700,4900) and (1300,5000) .. node[lbl,pos=0.1,right]{-messaging_object_} (1093,5050);
\draw[agg] (2000,4639) .. controls (2000,5400) and (2200,5900) .. node[lbl,pos=0.5,right]{-mesg_base_} (2417,6020);
\draw[agg] (2290,4602) .. controls (2330,5200) and (2420,5600) .. node[lbl,pos=0.6,left]{-profile_} (2454,5833);
\draw[agg] (2884,4460) .. controls (2700,4700) and (2560,5400) .. node[lbl,pos=0.6,right]{-incoming_} (2549,5833);

%--- connectors: request side ---%
\draw[agg] (3203,4558) -- node[lbl,right]{-refcnt_} (3203,4917);
\draw[agg] (2760,5220) .. controls (2800,5300) and (2880,5350) .. node[lbl,pos=0.4,left]{-request_service_info\\-reply_service_info_} (2933,5400);
\draw[agg] (2850,5220) .. controls (2800,5600) and (2700,5800) .. node[lbl,pos=0.4,left]{-request_service_context\\-reply_service_context_} (2588,5983);
\draw[agg] (3010,5073) -- node[lbl,right]{-ex_data_} (3015,5383);
\draw[agg] (3170,5124) -- node[lbl,pos=0.7,right]{-reply_dispatcher_} (3086,5383);
\draw[agg] (3380,5110) .. controls (3350,5300) and (3200,5330) .. node[lbl,pos=0.4,right]{-args_} (3114,5385);
\draw[agg] (2933,5740) .. controls (2850,5850) and (2700,5950) .. node[lbl,pos=0.3,right]{-operation_details_} (2588,6038);
\draw[agg] (3180,5736) .. controls (3000,5900) and (2800,6000) .. node[lbl,pos=0.3,right]{-caught_exception_} (2588,6068);
\draw[agg] (1036,5700) .. controls (1300,6000) and (2000,6050) .. node[lbl,pos=0.2,right]{-transport_} (2417,6094);

%--- connectors: transport strategies ---%
\draw[agg] (880,5200) .. controls (760,5300) and (735,5350) .. node[lbl,pos=0.5,left]{\#transport_} (732,5455);
\draw[agg] (785,5455) .. controls (820,5350) and (860,5300) .. node[lbl,pos=0.2,right]{\#tms_} (887,5245);
\draw[agg] (960,5286) -- node[lbl,right]{-curr_} (952,5440);
\draw[agg] (1036,5610) to[out=0,in=0,looseness=2.5] node[lbl,right]{-prev_} (1036,5520);
\draw[agg] (990,5286) .. controls (1020,5400) and (1100,5340) .. node[lbl,pos=0.3,right]{\#transport_} (1170,5464);
\draw[agg] (1160,5464) .. controls (1130,5400) and (1100,5320) .. node[lbl,pos=0.5,right]{\#ws_} (1093,5280);
\draw[agg] (1400,5529) .. controls (1360,5420) and (1200,5300) .. node[lbl,pos=0.6,left]{\#transport_timer_} (1093,5240);
\draw[agg] (1093,5230) .. controls (1400,5300) and (1410,5400) .. node[lbl,pos=0.6,right]{-transport_} (1407,5529);

\end{tikzpicture}
\end{document}
